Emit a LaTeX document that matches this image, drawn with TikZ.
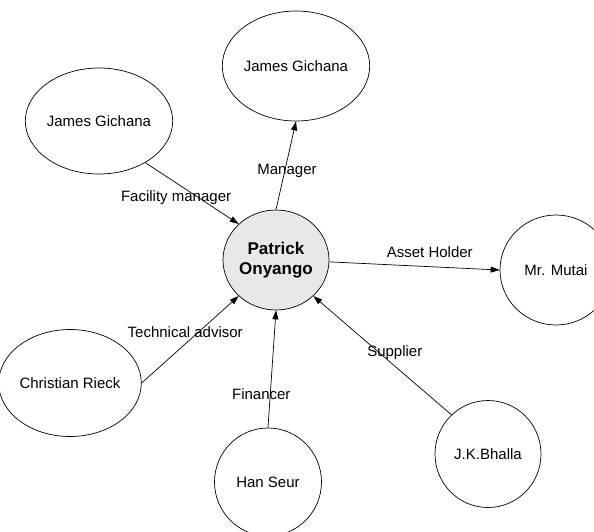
\documentclass[tikz,border=0pt]{standalone}
\usepackage{fontspec}
\setmainfont{Liberation Sans}
\usetikzlibrary{shapes.geometric, arrows.meta}

\begin{document}
\begin{tikzpicture}[x=1pt, y=-1pt,
    person/.style={ellipse, draw, line width=0.7pt, inner sep=0pt,
                   font=\fontsize{15}{18}\selectfont},
    role/.style={inner sep=0pt, font=\fontsize{15}{18}\selectfont},
    link/.style={line width=0.7pt, -{Triangle[length=9pt, width=6pt]}}]

    \useasboundingbox (0, 0) rectangle (594, 531);

    % Central person
    \node[person, fill=black!9, minimum width=106pt, minimum height=100pt,
          align=center, font=\fontsize{17}{20}\selectfont\bfseries]
          (onyango) at (276, 260) {Patrick\\Onyango};

    % People around him
    \node[person, minimum width=122pt, minimum height=110pt] (gichanatop) at (296, 66) {James Gichana};
    \node[person, minimum width=120pt, minimum height=106pt] (gichanaleft) at (99, 121) {James Gichana};
    \node[person, minimum width=112pt, minimum height=110pt] (mutai) at (556, 270) {Mr. Mutai};
    \node[person, minimum width=121pt, minimum height=107pt] (rieck) at (70, 383) {Christian Rieck};
    \node[person, minimum width=107pt, minimum height=108pt] (seur) at (268, 482) {Han Seur};
    \node[person, minimum width=106pt, minimum height=107pt] (bhalla) at (488, 454) {J.K.Bhalla};

    % Roles
    \draw[link] (gichanaleft.-42) -- (onyango.136) node[role, pos=0.33, below=7pt]{Facility manager};
    \draw[link] (onyango.north) -- (gichanatop.south) node[role, pos=0.5, xshift=1pt, yshift=-5pt]{Manager};
    \draw[link] (onyango.-2) -- (mutai.west) node[role, pos=0.59, above=9pt]{Asset Holder};
    \draw[link] (rieck.east) -- (onyango.224) node[role, pos=0.5, above=2pt, xshift=-5pt]{Technical advisor};
    \draw[link] (seur.north) -- (onyango.south) node[role, pos=0.29, xshift=-9pt]{Financer};
    \draw[link] (bhalla.133) -- (onyango.-44) node[role, pos=0.41, above=6pt]{Supplier};

\end{tikzpicture}
\end{document}
